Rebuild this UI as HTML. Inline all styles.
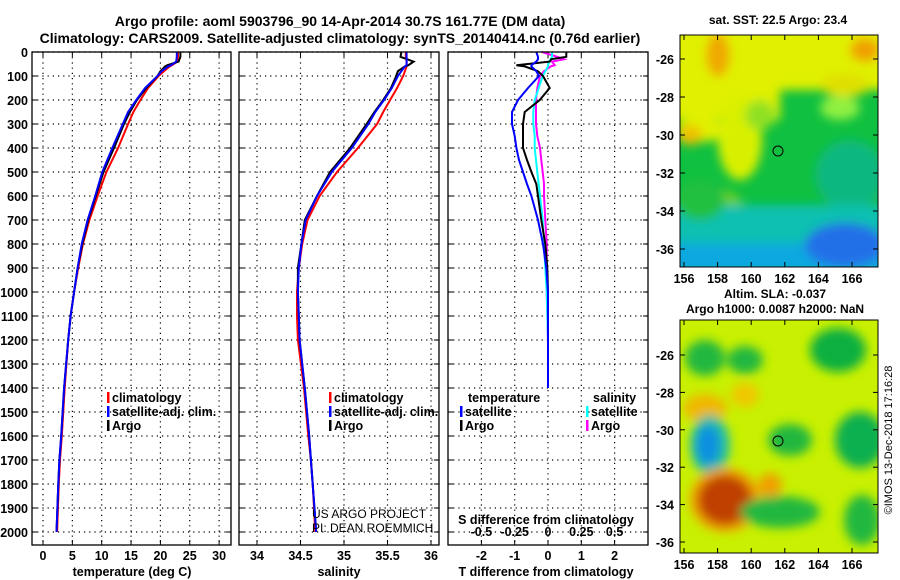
<!DOCTYPE html>
<html><head><meta charset="utf-8"><style>
html,body{margin:0;padding:0;background:#fff;}
svg{display:block;font-family:"Liberation Sans",sans-serif;font-weight:bold;}
</style></head><body>
<svg id="c" width="900" height="580" viewBox="0 0 900 580">
<defs>
<filter id="bl" x="-20%" y="-20%" width="140%" height="140%"><feGaussianBlur stdDeviation="5"/></filter>
<clipPath id="m1"><rect x="680" y="35" width="198" height="232"/></clipPath>
<clipPath id="m2"><rect x="680" y="320" width="198" height="233"/></clipPath>
</defs>
<text x="340" y="26" font-size="14" text-anchor="middle">Argo profile: aoml 5903796_90 14-Apr-2014 30.7S 161.77E (DM data)</text>
<text x="340" y="43" font-size="14" text-anchor="middle">Climatology: CARS2009. Satellite-adjusted climatology: synTS_20140414.nc (0.76d earlier)</text>
<g id="plots"></g>
<!-- map 1 -->
<g clip-path="url(#m1)">
<rect x="680" y="35" width="198" height="232" fill="#10c040"/>
<g filter="url(#bl)">
<rect x="670" y="25" width="220" height="65" fill="#e0f000"/>
<rect x="670" y="80" width="110" height="40" fill="#e0f000"/>
<ellipse cx="740" cy="140" rx="22" ry="40" fill="#d8f000"/>
<ellipse cx="700" cy="130" rx="25" ry="12" fill="#e0f000"/>
<ellipse cx="690" cy="135" rx="12" ry="10" fill="#f0c000"/>
<ellipse cx="718" cy="55" rx="12" ry="22" fill="#f0a800"/>
<ellipse cx="865" cy="50" rx="15" ry="12" fill="#f0a000"/>
<ellipse cx="845" cy="85" rx="25" ry="12" fill="#e0e000"/>
<ellipse cx="840" cy="108" rx="20" ry="12" fill="#90f040"/>
<ellipse cx="760" cy="115" rx="15" ry="15" fill="#90e020"/>
<ellipse cx="720" cy="205" rx="22" ry="15" fill="#70d020"/>
<ellipse cx="850" cy="175" rx="35" ry="35" fill="#10b880"/>
<rect x="670" y="205" width="220" height="40" fill="#10c0b0"/>
<ellipse cx="700" cy="200" rx="25" ry="20" fill="#20c040"/>
<rect x="670" y="243" width="220" height="30" fill="#10a8e0"/>
<ellipse cx="845" cy="245" rx="40" ry="22" fill="#2070e8"/>
</g>
</g>
<rect x="680" y="35" width="198" height="232" fill="none" stroke="#000"/>
<circle cx="778" cy="151" r="5" fill="none" stroke="#000"/>
<text x="778" y="24" font-size="12" text-anchor="middle">sat. SST: 22.5 Argo: 23.4</text>
<!-- map 2 -->
<g clip-path="url(#m2)">
<rect x="680" y="320" width="198" height="233" fill="#c8f000"/>
<g filter="url(#bl)">
<ellipse cx="705" cy="408" rx="22" ry="14" fill="#f0b800"/>
<ellipse cx="745" cy="395" rx="14" ry="12" fill="#f0c800"/>
<ellipse cx="710" cy="445" rx="20" ry="30" fill="#20c0a0"/>
<ellipse cx="708" cy="445" rx="12" ry="20" fill="#1090e0"/>
<ellipse cx="725" cy="500" rx="35" ry="32" fill="#f0a000"/>
<ellipse cx="725" cy="500" rx="27" ry="25" fill="#c04000"/>
<ellipse cx="838" cy="350" rx="28" ry="22" fill="#10b040"/>
<ellipse cx="860" cy="440" rx="25" ry="28" fill="#10b050"/>
<ellipse cx="790" cy="440" rx="22" ry="16" fill="#20b840"/>
<ellipse cx="780" cy="512" rx="40" ry="16" fill="#20b840"/>
<ellipse cx="862" cy="520" rx="18" ry="25" fill="#20b840"/>
<ellipse cx="745" cy="360" rx="18" ry="14" fill="#20b840"/>
<ellipse cx="705" cy="358" rx="20" ry="18" fill="#20b840"/>
<ellipse cx="770" cy="485" rx="12" ry="12" fill="#f0a000"/>
</g>
</g>
<rect x="680" y="320" width="198" height="233" fill="none" stroke="#000"/>
<circle cx="778" cy="441" r="5" fill="none" stroke="#000"/>
<text x="775" y="298" font-size="12" text-anchor="middle">Altim. SLA: -0.037</text>
<text x="775" y="313" font-size="12" text-anchor="middle">Argo h1000: 0.0087 h2000: NaN</text>
<text x="892" y="440" font-size="11" font-weight="normal" text-anchor="middle" transform="rotate(-90 892 440)">©IMOS 13-Dec-2018 17:16:28</text>
<g id="maps"></g>
</svg>
<script>
// ---- data ----
const depthT = [0,20,40,55,60,80,100,150,200,250,300,400,500,600,700,800,900,1000,1100,1200,1400,1600,1700,1800,2000];
const tempClim = [23.0,23.0,22.9,22.0,21.6,20.6,19.7,17.9,16.6,15.4,14.5,12.8,10.8,9.3,7.9,6.8,6.0,5.3,4.7,4.3,3.7,3.2,2.9,2.7,2.4];
const tempSat  = [22.8,22.8,22.7,21.8,21.3,20.2,19.5,17.4,15.9,14.5,13.6,11.8,10.1,8.9,7.6,6.6,5.9,5.3,4.7,4.3,3.6,3.1,2.8,2.6,2.3];
const tempArgo = [23.4,23.4,23.1,21.2,20.8,20.0,19.5,17.6,16.0,14.8,13.8,12.1,10.3,9.0,7.7,6.7,5.9,5.3,4.7,4.3,3.6,3.1,2.8,2.6,2.3];
const salClim = [35.71,35.71,35.72,35.72,35.72,35.70,35.68,35.61,35.53,35.45,35.38,35.16,34.92,34.72,34.58,34.52,34.48,34.46,34.46,34.47,34.54,34.59,34.62,34.64,34.67];
const salSat  = [35.72,35.72,35.72,35.72,35.70,35.66,35.62,35.55,35.46,35.36,35.28,35.09,34.86,34.69,34.56,34.51,34.48,34.47,34.48,34.49,34.55,34.60,34.62,34.64,34.68];
const salArgo = [35.66,35.65,35.80,35.74,35.70,35.62,35.60,35.54,35.45,35.35,35.26,35.07,34.84,34.69,34.55,34.51,34.47,34.47,34.48,34.49,34.55,34.60,34.62,34.64,34.68];
const depthD = [0,20,30,40,55,60,80,100,150,200,250,300,350,400,450,500,550,600,700,800,900,1000,1200,1400];
const dTsat  = [-0.35,-0.3,-0.3,-0.35,-0.5,-0.5,-0.35,-0.27,-0.6,-0.9,-1.08,-1.08,-1.0,-0.95,-0.87,-0.75,-0.63,-0.5,-0.3,-0.15,-0.05,0,0,0];
const dTargo = [0.55,0.55,0.1,0.05,-0.95,-0.7,-0.3,-0.15,0.05,-0.25,-0.7,-0.75,-0.75,-0.75,-0.63,-0.5,-0.35,-0.3,-0.2,-0.08,-0.02,0,0,0];
const dSsat  = [0.03,0.03,0.02,0.01,0,0,-0.02,-0.04,-0.07,-0.1,-0.11,-0.11,-0.1,-0.1,-0.09,-0.08,-0.07,-0.06,-0.04,-0.03,-0.02,-0.01,0,0];
const dSargo = [-0.045,0.07,0.12,0.03,0.05,0.02,-0.03,-0.06,-0.08,-0.09,-0.09,-0.09,-0.08,-0.06,-0.05,-0.04,-0.03,-0.03,-0.02,-0.01,-0.01,-0.01,0,0];
const depthTicks = [0,100,200,300,400,500,600,700,800,900,1000,1100,1200,1300,1400,1500,1600,1700,1800,1900,2000];
const tempTicks = [0,5,10,15,20,25,30];
const salTicks = [34,34.5,35,35.5,36];
const tdTicks = [-2,-1,0,1,2];
const sdTicks = [-0.5,-0.25,0,0.25,0.5];
const sdTickLabels = ["-0.5","-0.25","0","0.25","0.5"];
const lonTicks = [156,158,160,162,164,166];
const latTicks = [-26,-28,-30,-32,-34,-36];

const NS='http://www.w3.org/2000/svg';
const g=document.getElementById('plots');
function mk(tag,at,parent){const e=document.createElementNS(NS,tag);for(const k in at)e.setAttribute(k,at[k]);(parent||g).appendChild(e);return e;}
const yD=d=>52+0.24*d;
const xT=t=>43+5.87*t;
const xS=s=>257+87*(s-34);
const xTd=t=>548+33.3*t;
const xSd=s=>548+133.2*s;
const panels=[{x0:32,x1:231},{x0:239,x1:439},{x0:448,x1:648}];
const Y0=52,Y1=545;

function dotted(x1,y1,x2,y2){const l=mk('line',{x1,y1,x2,y2,stroke:'#000','stroke-width':1.2,'stroke-dasharray':'1.2 4'});
}
panels.forEach((p,i)=>{
  depthTicks.forEach(d=>{dotted(p.x0,yD(d),p.x1,yD(d));
    const t=mk('line',{x1:p.x0,y1:yD(d),x2:p.x0+5,y2:yD(d),stroke:'#000'});
    const t2=mk('line',{x1:p.x1-5,y1:yD(d),x2:p.x1,y2:yD(d),stroke:'#000'});
  });
});
depthTicks.forEach(d=>{const t=mk('text',{x:28,y:yD(d)+5,'font-size':12.5,'text-anchor':'end'});t.textContent=d;
});
function xticks(ticks,fx,labels,p,ty){ticks.forEach((v,i)=>{const x=fx(v);dotted(x,Y0,x,Y1);
  const a=mk('line',{x1:x,y1:Y1,x2:x,y2:Y1-5,stroke:'#000'});
  const b=mk('line',{x1:x,y1:Y0,x2:x,y2:Y0+5,stroke:'#000'});
  const t=mk('text',{x,y:ty,'font-size':12.5,'text-anchor':'middle'});t.textContent=labels?labels[i]:v;
  });}
xticks(tempTicks,xT,null,panels[0],560);
xticks(salTicks,xS,null,panels[1],560);
xticks(tdTicks,xTd,null,panels[2],560);
sdTicks.forEach((v,i)=>{const t=mk('text',{x:xSd(v),y:536,'font-size':12.5,'text-anchor':'middle'});t.textContent=sdTickLabels[i];
});

function line(depths,vals,fx,color,name){const pts=vals.map((v,i)=>fx(v).toFixed(1)+','+yD(depths[i]).toFixed(1)).join(' ');
  const l=mk('polyline',{points:pts,fill:'none',stroke:color,'stroke-width':2});
  }
line(depthT,tempClim,xT,'#f00','temp-climatology-line');
line(depthT,tempArgo,xT,'#000','temp-argo-line');
line(depthT,tempSat,xT,'#00f','temp-satellite-line');
line(depthT,salClim,xS,'#f00','sal-climatology-line');
line(depthT,salArgo,xS,'#000','sal-argo-line');
line(depthT,salSat,xS,'#00f','sal-satellite-line');
line(depthD,dSargo,xSd,'#f0f','sdiff-argo-line');
line(depthD,dSsat,xSd,'#0ff','sdiff-satellite-line');
line(depthD,dTargo,xTd,'#000','tdiff-argo-line');
line(depthD,dTsat,xTd,'#00f','tdiff-satellite-line');

panels.forEach(p=>{const r=mk('rect',{x:p.x0,y:Y0,width:p.x1-p.x0,height:Y1-Y0,fill:'none',stroke:'#000','stroke-width':1.3});
});

function txt(x,y,s,name,opts){const t=mk('text',Object.assign({x,y,'font-size':12.5},opts||{}));t.textContent=s;
return t;}
function leg(x,y,color,s,name){const m=mk('rect',{x:x,y:y-10,width:2.5,height:11,fill:color});
txt(x+5,y,s,name);}
leg(107,402,'#f00','climatology','legend-climatology');
leg(107,416,'#00f','satellite-adj. clim.','legend-satellite');
leg(107,430,'#000','Argo','legend-argo');
leg(329,402,'#f00','climatology','legend2-climatology');
leg(329,416,'#00f','satellite-adj. clim.','legend2-satellite');
leg(329,430,'#000','Argo','legend2-argo');
txt(468,402,'temperature','legend3-temperature-heading');
txt(593,402,'salinity','legend3-salinity-heading');
leg(460,416,'#00f','satellite','legend3-t-satellite');
leg(460,430,'#000','Argo','legend3-t-argo');
leg(586,416,'#0ff','satellite','legend3-s-satellite');
leg(586,430,'#f0f','Argo','legend3-s-argo');
txt(546,524,'S difference from climatology','s-diff-axis-title',{'text-anchor':'middle'});
txt(132,576,'temperature (deg C)','temp-axis-title',{'text-anchor':'middle'});
txt(339,576,'salinity','sal-axis-title',{'text-anchor':'middle'});
txt(546,576,'T difference from climatology','t-diff-axis-title',{'text-anchor':'middle'});
txt(312,518,'US ARGO PROJECT','credit-project',{'font-weight':'normal','font-size':12});
txt(312,532,'PI: DEAN ROEMMICH','credit-pi',{'font-weight':'normal','font-size':12});

// map axes
const mg=document.getElementById('maps');
const xLon=l=>684+16.8*(l-156);
function mapAxes(top,bot,yLat){
  lonTicks.forEach(l=>{const x=xLon(l);
    const a=mk('line',{x1:x,y1:bot,x2:x,y2:bot-5,stroke:'#000'},mg);
    const b=mk('line',{x1:x,y1:top,x2:x,y2:top+5,stroke:'#000'},mg);
    const t=mk('text',{x,y:bot+16,'font-size':12.5,'text-anchor':'middle'},mg);t.textContent=l;});
  latTicks.forEach(l=>{const y=yLat(l);
    const a=mk('line',{x1:680,y1:y,x2:685,y2:y,stroke:'#000'},mg);
    const b=mk('line',{x1:873,y1:y,x2:878,y2:y,stroke:'#000'},mg);
    const t=mk('text',{x:674,y:y+5,'font-size':12.5,'text-anchor':'end'},mg);t.textContent=l;});
}
mapAxes(35,267,l=>59-19*(l+26));
mapAxes(320,553,l=>355-18.7*(l+26));
</script>
</body></html>
